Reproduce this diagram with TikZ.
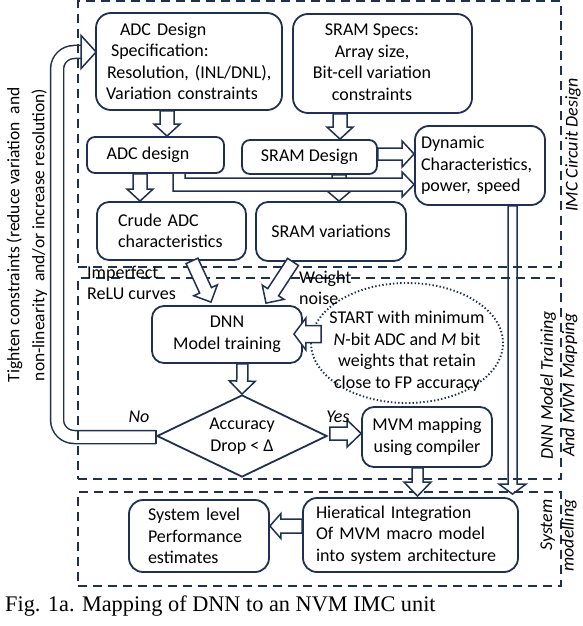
\documentclass[tikz,border=0pt]{standalone}
\usepackage{fontspec}
\setmainfont{Carlito}
\newfontfamily\capfont{Liberation Serif}
\usetikzlibrary{calc,shapes.geometric}
\definecolor{navy}{RGB}{32,48,82}
\newcommand\fs{\fontsize{18}{21.5}\selectfont}
% block arrow: [opts]{start}{end}{shaft half}{head half}{head length}
\newcommand\blockarrow[6][]{%
  \coordinate (bas) at (#2);
  \coordinate (bae) at (#3);
  \coordinate (bah) at ($(bae)!#6!(bas)$);
  \draw[arrowline,#1] ($(bas)!#4!90:(bae)$) -- ($(bah)!#4!90:(bae)$) -- ($(bah)!#5!90:(bae)$) -- (bae)
     -- ($(bah)!#5!-90:(bae)$) -- ($(bah)!#4!-90:(bae)$) -- ($(bas)!#4!-90:(bae)$) -- cycle;}
\begin{document}
\begin{tikzpicture}[x=1pt,y=-1pt,font=\fs,
  box/.style={draw=navy,line width=1.8pt,rounded corners=12pt,fill=white,inner sep=0pt,align=center},
  region/.style={draw=navy,line width=1.8pt,dash pattern=on 9pt off 6pt,inner sep=0pt},
  arrowline/.style={draw=navy,line width=1.5pt,fill=white,line join=miter},
  lbl/.style={inner sep=0pt,align=left,anchor=west},
]
\useasboundingbox (0,0) rectangle (582,626);

% ---------- boxes ----------
\node[box,rounded corners=15pt,minimum width=186pt,minimum height=97pt,text width=166pt,align=left] (spec) at (189,61.5)
  {\hspace*{14pt}ADC Design\\\hspace*{5pt}Specification:\\\hspace*{1pt}Resolution, (INL/DNL),\\Variation constraints};
\node[box,rounded corners=15pt,minimum width=179pt,minimum height=99pt] (sramspec) at (382.5,63.5)
  {\begin{tabular}{@{}c@{}}SRAM Specs:\\Array size,\\Bit-cell variation\\constraints\end{tabular}\hspace*{21pt}};
\node[box,rounded corners=8pt,minimum width=137pt,minimum height=36pt] (adcd) at (155.5,155) {ADC design\hspace*{15pt}};
\node[box,rounded corners=8pt,minimum width=135pt,minimum height=34pt] (sramd) at (309.5,157) {SRAM Design};
\node[box,rounded corners=14pt,minimum width=130pt,minimum height=79pt,text width=118pt,align=left] (dyn) at (480,165.5)
  {Dynamic\\Characteristics,\\power, speed};
\node[box,minimum width=149pt,minimum height=58pt,text width=107pt,align=left] (crude) at (171.5,231) {Crude ADC\\characteristics};
\node[box,minimum width=150pt,minimum height=59pt] (sramv) at (331,231.5) {SRAM variations};
\node[box,minimum width=150pt,minimum height=57pt] (dnn) at (227,334.5) {DNN\\Model training};
\node[box,minimum width=130pt,minimum height=60pt] (mvm) at (427,437) {MVM mapping\\using compiler};
\node[box,rounded corners=14pt,minimum width=215pt,minimum height=74pt,text width=189pt,align=left] (hier) at (410.5,535)
  {Hieratical Integration\\Of MVM macro model\\into system architecture};
\node[box,rounded corners=14pt,minimum width=140pt,minimum height=72pt,text width=102pt,align=left] (sys) at (199,536)
  {System level\\Performance\\estimates};
\node[draw=navy,line width=1.8pt,diamond,aspect=2.07,minimum width=170pt,minimum height=82pt,inner sep=0pt,align=center,fill=white] (acc) at (242,436)
  {Accuracy\\Drop < Δ};
\node[draw=navy,line width=1.9pt,dash pattern=on 1.4pt off 2.2pt,ellipse,minimum width=192pt,minimum height=120pt,inner sep=0pt] (ell) at (407,343) {};
\node[align=center,inner sep=0pt] (elltext) at (407,351)
  {START with minimum\\\textit{N}-bit ADC and \textit{M} bit\\weights that retain\\close to FP accuracy};

% ---------- "No" feedback loop ----------
\coordinate (noS) at ($(acc.west)+(0,1)$);
\coordinate (notip) at ($(spec.west)+(1,-9.5)$);
\coordinate (nobase) at ($(notip)+(-15,0)$);
\draw[navy,line width=14.5pt,rounded corners=17pt] (noS) -- ($(noS)+(-99,0)$) |- ($(nobase)+(1,0)$);
\draw[white,line width=11.5pt,rounded corners=17pt] (noS) -- ($(noS)+(-99,0)$) |- ($(nobase)+(1,0)$);
\draw[navy,line width=1.5pt] ($(noS)+(0,-7)$) -- ($(noS)+(0,7)$);
\draw[arrowline] ($(nobase)+(0,-16.5)$) -- (notip) -- ($(nobase)+(0,16.5)$) -- cycle;

% ---------- regions ----------
\node[region,draw,minimum width=483pt,minimum height=266pt] (imcreg) at (319.5,134) {};
\node[region,draw,minimum width=483pt,minimum height=201pt] (dnnreg) at (319.5,378.5) {};
\node[region,draw,minimum width=483pt,minimum height=94pt] (sysreg) at (319.5,539) {};

% ---------- arrows ----------
\blockarrow{$(spec.south)+(-22,0)$}{$(adcd.north)+(11.5,0)$}{7pt}{13pt}{12pt}
\blockarrow{$(sramspec.south)+(-42.5,0)$}{$(sramd.north)+(30.5,0)$}{7pt}{13pt}{12pt}
\blockarrow{$(adcd.south)+(-15.5,0)$}{$(crude.north)+(-31.5,0)$}{7pt}{13pt}{12pt}
\blockarrow{$(sramd.south)+(29.5,0)$}{$(sramv.north)+(8,0)$}{7pt}{13pt}{11pt}
\blockarrow{$(sramd.east)+(0,-3)$}{$(dyn.west)+(0,-11.5)$}{6pt}{13pt}{12pt}
\coordinate (Ltip) at ($(dyn.west)+(0,19)$);
\draw[arrowline] ($(adcd.south)+(17.5,0)$) |- ($(Ltip)+(-12,6.5)$) -- ($(Ltip)+(-12,12.5)$) -- (Ltip)
   -- ($(Ltip)+(-12,-12.5)$) -- ($(Ltip)+(-12,-6.5)$) -| ($(adcd.south)+(29.5,0)$);
\blockarrow{$(crude.south)+(20.5,0)$}{$(dnn.north)+(-16,-3)$}{6.5pt}{13pt}{13pt}
\blockarrow{$(sramv.south)+(-38,0)$}{$(dnn.north)+(39,-2)$}{6.5pt}{13pt}{13pt}
\blockarrow{$(dnn.south)+(15.5,0)$}{$(acc.north)$}{5.5pt}{13pt}{13pt}
\blockarrow{$(acc.east)+(2,-2.5)$}{$(mvm.west)+(0,-3.5)$}{6.5pt}{13.5pt}{14pt}
\blockarrow{$(mvm.south)+(-9.5,0)$}{$(hier.north)+(7,-1)$}{5.5pt}{13.5pt}{14pt}
\blockarrow{$(hier.west)+(0,-9)$}{$(sys.east)+(0,-10)$}{7pt}{12.5pt}{11pt}
\blockarrow[fill=none]{$(dyn.south)+(32.5,0)$}{$(hier.north)+(102,-3)$}{4.5pt}{13.5pt}{10pt}
\blockarrow{$(ell.west)+(11,-9)$}{$(dnn.east)+(-9,-0.5)$}{8.5pt}{16pt}{12pt}

% ---------- labels ----------
\node[lbl] (imp) at (87,283) {Imperfect\\ReLU curves};
\node[lbl] (wn) at (299,288) {Weight\\noise};
\node[font=\fs\itshape,inner sep=0pt] (nolab) at (139,417) {No};
\node[font=\fs\itshape,inner sep=0pt] (yeslab) at (338,417) {Yes};
\node[rotate=90,font=\fs\itshape,inner sep=0pt] (imclab) at (573,145) {IMC Circuit Design};
\node[rotate=90,font=\fs\itshape,align=center,inner sep=0pt] (dnnlab) at (559,385) {DNN Model Training\\And MVM Mapping};
\node[rotate=90,font=\fs\itshape,align=right,inner sep=0pt] (syslab) at (558.5,535.5) {System\\modelling};
\node[rotate=90,font=\fontsize{17.5}{25}\selectfont,align=center,inner sep=0pt] (tight) at (27,235)
  {Tighten constraints (reduce variation\ \ and\\non-linearity\ \ and/or increase resolution)};
\node[anchor=base west,font=\capfont\fontsize{22.3}{25}\selectfont,inner sep=0pt] (cap) at (5,611)
  {Fig. 1a. Mapping of DNN to an NVM IMC unit};
\end{tikzpicture}
\end{document}
